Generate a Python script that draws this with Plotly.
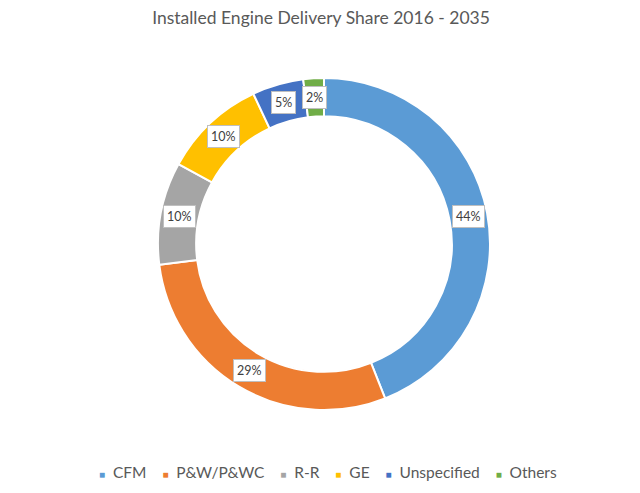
import math
import plotly.graph_objects as go

# data
makers = ["CFM", "P&W/P&WC", "R-R", "GE", "Unspecified", "Others"]
shares = [44, 29, 10, 10, 5, 2]
colors = ["#5B9BD5", "#ED7D31", "#A5A5A5", "#FFC000", "#4472C4", "#70AD47"]

W, H = 640, 493
OFF = 8                      # page body margin offsets the figure by 8px
cx, cy = 324 - OFF, H - (244 - OFF)   # pie centre in px (y from bottom)
r_out = 166
hole = 0.77
FONT = "Lato, Open Sans, sans-serif"

fig = go.Figure(go.Pie(
    labels=makers,
    values=shares,
    marker=dict(colors=colors, line=dict(color="white", width=2)),
    hole=hole,
    sort=False,
    direction="clockwise",
    rotation=0,
    textinfo="none",
    hoverinfo="label+percent",
    domain=dict(x=[(cx - r_out) / W, (cx + r_out) / W],
                y=[(cy - r_out) / H, (cy + r_out) / H]),
))

# boxed percentage labels in the middle of the ring
total = sum(shares)
r_mid = r_out * (1 + hole) / 2
cum = 0
for v in shares:
    theta = 2 * math.pi * (cum + v / 2) / total
    cum += v
    fig.add_annotation(
        x=(cx + r_mid * math.sin(theta)) / W,
        y=(cy + r_mid * math.cos(theta)) / H,
        xref="paper", yref="paper", xanchor="center", yanchor="middle",
        text=f"{round(100 * v / total)}%",
        showarrow=False,
        bgcolor="white", bordercolor="#BFBFBF", borderwidth=1, borderpad=3,
        font=dict(family=FONT, size=12.5, color="#404040"),
    )

# legend in the Excel style: small square, label, wide gap
nb = "\u00a0"
items = [f"<span style='color:{c};font-size:10px'>■</span>{nb}{nb}{m}"
         for m, c in zip(makers, colors)]
fig.add_annotation(
    x=(328 - OFF) / W, y=(H - (472 - OFF)) / H, xref="paper", yref="paper",
    xanchor="center", yanchor="middle", showarrow=False,
    text=(nb * 4).join(items),
    font=dict(family=FONT, size=15.5, color="#595959"),
)

fig.update_layout(
    width=W, height=H,
    margin=dict(l=0, r=0, t=0, b=0),
    paper_bgcolor="white",
    title=dict(text="Installed Engine Delivery Share 2016 - 2035",
               x=(321 - OFF) / W, xanchor="center", y=1 - (18 - OFF) / H, yanchor="middle",
               font=dict(family=FONT, size=17.5, color="#595959")),
    showlegend=False,
)

fig.write_html("out.html")
